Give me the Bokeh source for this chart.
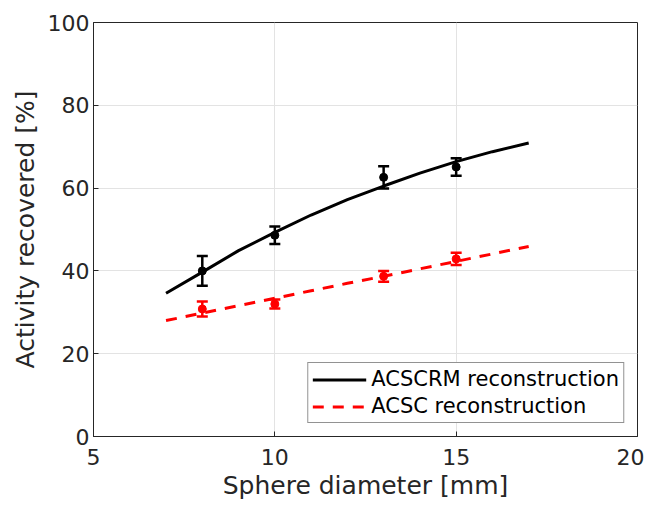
from bokeh.plotting import figure
from bokeh.models import ColumnDataSource, Whisker, TeeHead, Legend, LegendItem, FixedTicker, Range1d
from bokeh.embed import file_html
from bokeh.resources import INLINE

# data
diam_pts = [8, 10, 13, 15]
acscrm_mean = [40.0, 48.6, 62.6, 65.1]
acscrm_err = [3.6, 2.1, 2.7, 2.1]
acsc_mean = [30.8, 32.0, 38.7, 42.9]
acsc_err = [1.8, 1.1, 1.3, 1.5]

fit_x = [7, 8, 9, 10, 11, 12, 13, 14, 15, 16, 17]
acscrm_fit = [34.6, 39.7, 44.9, 49.3, 53.5, 57.2, 60.5, 63.6, 66.4, 68.8, 70.9]
acsc_fit = [28.0, 29.8, 31.6, 33.4, 35.2, 37.0, 38.7, 40.5, 42.3, 44.1, 45.9]

x_ticks = [5, 10, 15, 20]
y_ticks = [0, 20, 40, 60, 80, 100]

FONT = "DejaVu Sans"
TXT = "#262626"

p = figure(width=644, height=506, output_backend="svg", toolbar_location=None,
           x_range=Range1d(5, 20), y_range=Range1d(0, 100),
           min_border_left=93, min_border_right=7, min_border_top=22, min_border_bottom=70)
p.background_fill_color = "white"
p.border_fill_color = "white"
p.outline_line_color = TXT
p.outline_line_width = 1

for ax in (p.xaxis[0], p.yaxis[0]):
    ax.major_label_text_font = FONT
    ax.major_label_text_font_size = "22px"
    ax.major_label_text_color = TXT
    ax.axis_label_text_font = FONT
    ax.axis_label_text_font_size = "25px"
    ax.axis_label_text_font_style = "normal"
    ax.axis_label_text_color = TXT
    ax.axis_line_color = TXT
    ax.major_tick_line_color = TXT
    ax.major_tick_in = 5
    ax.major_tick_out = 0
    ax.minor_tick_line_color = None

p.xaxis.ticker = FixedTicker(ticks=x_ticks)
p.yaxis.ticker = FixedTicker(ticks=y_ticks)
p.xaxis.axis_label = "Sphere diameter [mm]"
p.yaxis.axis_label = "Activity recovered [%]"
p.xaxis.major_label_standoff = 12
p.yaxis.major_label_standoff = 4
p.xaxis.axis_label_standoff = 3
p.yaxis.axis_label_standoff = 5

p.xgrid.ticker = FixedTicker(ticks=x_ticks)
p.ygrid.ticker = FixedTicker(ticks=y_ticks)
p.grid.grid_line_color = "#e3e3e3"
p.grid.grid_line_width = 1

fit_src = ColumnDataSource(dict(x=fit_x, a=acscrm_fit, b=acsc_fit))
l1 = p.line("x", "a", source=fit_src, line_color="black", line_width=3)
l2 = p.line("x", "b", source=fit_src, line_color="red", line_width=3, line_dash="11 9")

pts = ColumnDataSource(dict(
    x=diam_pts,
    m1=acscrm_mean,
    lo1=[m - e for m, e in zip(acscrm_mean, acscrm_err)],
    hi1=[m + e for m, e in zip(acscrm_mean, acscrm_err)],
    m2=acsc_mean,
    lo2=[m - e for m, e in zip(acsc_mean, acsc_err)],
    hi2=[m + e for m, e in zip(acsc_mean, acsc_err)],
))

for lo, hi, col in (("lo1", "hi1", "black"), ("lo2", "hi2", "red")):
    w = Whisker(base="x", lower=lo, upper=hi, source=pts, dimension="height",
                line_color=col, line_width=2.5,
                upper_head=TeeHead(size=11, line_color=col, line_width=2.5),
                lower_head=TeeHead(size=11, line_color=col, line_width=2.5))
    p.add_layout(w)

p.scatter("x", "m1", source=pts, size=8, color="black")
p.scatter("x", "m2", source=pts, size=8, color="red")

legend = Legend(items=[LegendItem(label="ACSCRM reconstruction", renderers=[l1]),
                       LegendItem(label="ACSC reconstruction", renderers=[l2])],
                location="bottom_right")
legend.label_text_font = FONT
legend.label_text_font_size = "21px"
legend.label_text_color = "black"
legend.border_line_color = TXT
legend.border_line_width = 1
legend.glyph_width = 54
legend.glyph_height = 21
legend.label_height = 21
legend.spacing = 3
legend.padding = 4
legend.margin = 13
legend.label_standoff = 5
legend.background_fill_alpha = 1
p.add_layout(legend)

open("out.html", "w").write(file_html(p, INLINE))
